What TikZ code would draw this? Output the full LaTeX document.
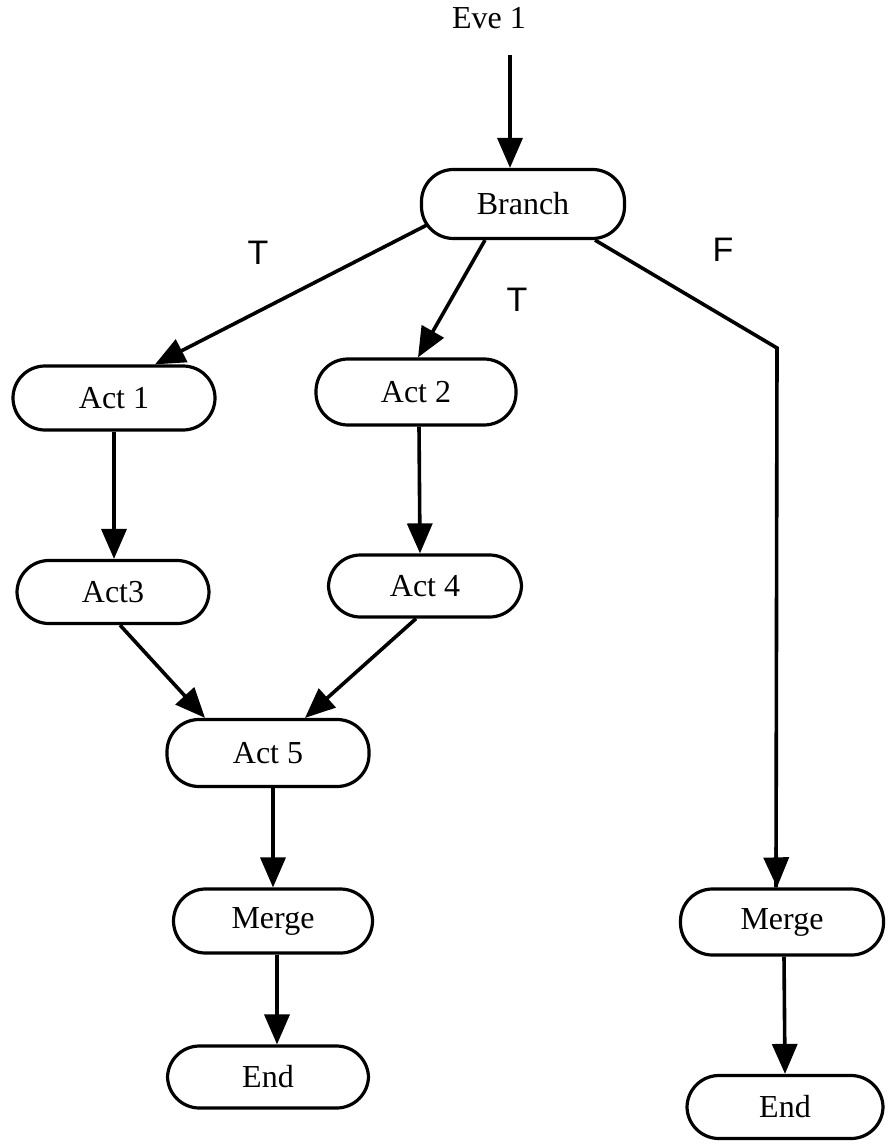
\documentclass[tikz,border=0pt]{standalone}
\usepackage{fontspec}
\setmainfont{Liberation Serif}
\newfontfamily\labelfont{Liberation Sans}
\usetikzlibrary{arrows.meta}
\begin{document}
\begin{tikzpicture}[x=1pt,y=-1pt,
  pill/.style={draw, line width=3.2pt, rounded corners=32pt, inner sep=0pt,
    font=\fontsize{32}{36}\selectfont},
  flow/.style={line width=3.6pt, -{Triangle[length=30pt,width=25pt]}},
  branchlabel/.style={font=\labelfont\fontsize{34}{38}\selectfont, inner sep=0pt}]
\useasboundingbox (0,0) rectangle (887,1147);

% start event and decision
\node[inner sep=0pt, font=\fontsize{32}{36}\selectfont] (eve) at (489,18) {Eve 1};
\node[pill, minimum width=203pt, minimum height=69pt] (branch) at (523,204) {Branch};

% true branches
\node[pill, minimum width=202pt, minimum height=64pt] (act1) at (114,398) {Act 1};
\node[pill, minimum width=200pt, minimum height=66pt] (act2) at (416,392) {Act 2};
\node[pill, minimum width=192pt, minimum height=63pt] (act3) at (113,592) {Act3};
\node[pill, minimum width=193pt, minimum height=62pt] (act4) at (425,586) {Act 4};
\node[pill, minimum width=202pt, minimum height=67pt] (act5) at (268,753) {Act 5};
\node[pill, minimum width=199pt, minimum height=64pt] (mergeL) at (273,921) {Merge};
\node[pill, minimum width=201pt, minimum height=62pt] (endL) at (268,1077) {End};

% false branch
\node[pill, minimum width=203pt, minimum height=66pt] (mergeR) at (782,922) {Merge};
\node[pill, minimum width=196pt, minimum height=63pt] (endR) at (785,1107) {End};

% branch labels
\node[branchlabel] (t1) at (258,253) {T};
\node[branchlabel] (t2) at (517,300) {T};
\node[branchlabel] (f1) at (723,250) {F};

\coordinate (bend) at (777,348);

% connectors
\draw[flow] ([xshift=21pt,yshift=-26pt]eve.south) -- ([xshift=-13pt]branch.north);
\draw[flow] ([xshift=7pt,yshift=-21pt]branch.west) -- ([xshift=41pt]act1.north);
\draw[flow] ([xshift=-38pt]branch.south) -- ([xshift=2pt]act2.north);
\draw[line width=3.6pt, line join=miter] ([xshift=72pt]branch.south) -- (bend)
  -- ([xshift=-1pt]bend |- mergeR.north);
\draw[flow] ([xshift=-1pt]bend |- mergeR.north) ++(0,-40) -- ([xshift=-5pt]mergeR.north);
\draw[flow] (act1.south) -- ([xshift=1pt]act3.north);
\draw[flow] ([xshift=3pt]act2.south) -- ([xshift=-5pt]act4.north);
\draw[flow] ([xshift=7pt]act3.south) -- ([xshift=-63pt]act5.north);
\draw[flow] ([xshift=-9pt]act4.south) -- ([xshift=37pt]act5.north);
\draw[flow] ([xshift=5pt]act5.south) -- (mergeL.north);
\draw[flow] ([xshift=4pt]mergeL.south) -- ([xshift=9pt]endL.north);
\draw[flow] ([xshift=2pt]mergeR.south) -- (endR.north);
\end{tikzpicture}
\end{document}
